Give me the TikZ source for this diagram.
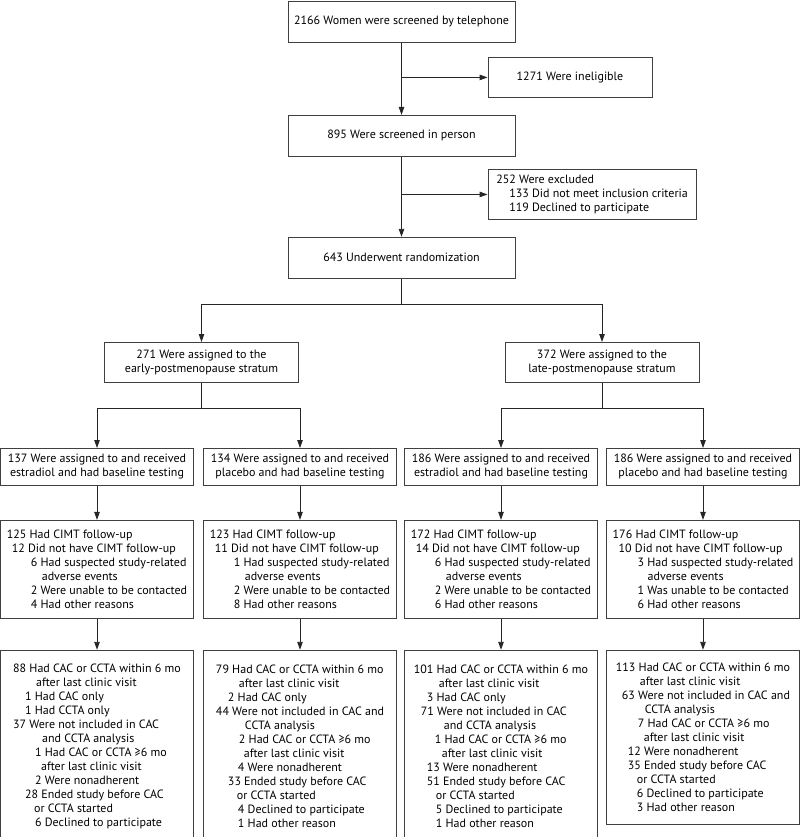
\documentclass[tikz,border=0pt]{standalone}
\usepackage{fontspec}
\setmainfont{PT Sans}
\usetikzlibrary{positioning,arrows.meta}

\newcommand{\lvl}[1]{\hspace*{#1pt}}

\begin{document}
\begin{tikzpicture}[x=1pt, y=-1pt,
                    font=\fontsize{12}{14}\selectfont,
                    line width=0.9pt,
                    box/.style={draw=black!75, anchor=north, inner xsep=4pt, inner ysep=3pt},
                    single box/.style={box, minimum width=227pt, minimum height=41pt, align=center},
                    strat box/.style={box, minimum width=194pt, minimum height=40pt, align=center},
                    arm box/.style={box, minimum width=193pt, minimum height=37pt, align=center},
                    list box/.style={box, minimum width=193pt, align=left},
                    link/.style={draw=black!85},
                    arr/.style={link, -{Triangle[length=8pt,width=5.5pt]}}]

  \useasboundingbox (0,0) rectangle (800,837);
  \clip (0,0) rectangle (800,837);

  % screening
  \node[single box] (tel) at (401.5,1) {2166 Women were screened by telephone};
  \node[single box] (person) [below=72pt of tel] {895 Were screened in person};
  \node[single box] (rand) [below=80pt of person] {643 Underwent randomization};
  \node[box, minimum width=164pt, minimum height=40pt] (inelig) at (570,57) {1271 Were ineligible};
  \node[box, minimum width=208pt, minimum height=50pt, align=left] (excl) at (592,169)
    {252 Were excluded\\ \lvl{13}133 Did not meet inclusion criteria\\ \lvl{13}119 Declined to participate};

  \draw[arr] (tel) -- (person);
  \draw[arr] (person) -- (rand);
  \draw[arr] (tel.south |- inelig.west) -- (inelig.west);
  \draw[arr] (person.south |- excl.west) -- (excl.west);

  % strata
  \coordinate[below=26pt of rand.south] (rsplit);
  \node[strat box] (early) at (201.5,342) {271 Were assigned to the\\early-postmenopause stratum};
  \node[strat box] (late) at (602,342) {372 Were assigned to the\\late-postmenopause stratum};

  \draw[link] (rand) -- (rsplit);
  \draw[arr] (rsplit) -| (early);
  \draw[arr] (rsplit) -| (late);

  % arms
  \coordinate[below=26pt of early.south] (esplit);
  \coordinate[below=26pt of late.south] (lsplit);
  \node[arm box] (ee) at (97,448) {137 Were assigned to and received\\estradiol and had baseline testing};
  \node[arm box] (ep) at (300,448) {134 Were assigned to and received\\placebo and had baseline testing};
  \node[arm box] (le) at (501,448) {186 Were assigned to and received\\estradiol and had baseline testing};
  \node[arm box] (lp) at (703,448) {186 Were assigned to and received\\placebo and had baseline testing};

  \draw[link] (early) -- (esplit);
  \draw[link] (late) -- (lsplit);
  \draw[arr] (esplit) -| (ee);
  \draw[arr] (esplit) -| (ep);
  \draw[arr] (lsplit) -| (le);
  \draw[arr] (lsplit) -| (lp);

  % CIMT follow-up
  \node[list box, minimum height=98pt] (ee cimt) [below=34pt of ee]
    {125 Had CIMT follow-up\\ \lvl{5}12 Did not have CIMT follow-up\\ \lvl{24}6 Had suspected study-related\\ \lvl{35}adverse events\\ \lvl{24}2 Were unable to be contacted\\ \lvl{24}4 Had other reasons};
  \node[list box, minimum height=98pt] (ep cimt) [below=34pt of ep]
    {123 Had CIMT follow-up\\ \lvl{5}11 Did not have CIMT follow-up\\ \lvl{24}1 Had suspected study-related\\ \lvl{35}adverse events\\ \lvl{24}2 Were unable to be contacted\\ \lvl{24}8 Had other reasons};
  \node[list box, minimum height=98pt] (le cimt) [below=34pt of le]
    {172 Had CIMT follow-up\\ \lvl{5}14 Did not have CIMT follow-up\\ \lvl{24}6 Had suspected study-related\\ \lvl{35}adverse events\\ \lvl{24}2 Were unable to be contacted\\ \lvl{24}6 Had other reasons};
  \node[list box, minimum height=98pt] (lp cimt) [below=34pt of lp]
    {176 Had CIMT follow-up\\ \lvl{6}10 Did not have CIMT follow-up\\ \lvl{25}3 Had suspected study-related\\ \lvl{35}adverse events\\ \lvl{25}1 Was unable to be contacted\\ \lvl{25}6 Had other reasons};

  \draw[arr] (ee) -- (ee cimt);
  \draw[arr] (ep) -- (ep cimt);
  \draw[arr] (le) -- (le cimt);
  \draw[arr] (lp) -- (lp cimt);

  % CAC and CCTA
  \node[list box, minimum height=192pt] (ee cac) [below=31pt of ee cimt]
    {88 Had CAC or CCTA within 6 mo\\ \lvl{23}after last clinic visit\\ \lvl{12}1 Had CAC only\\ \lvl{12}1 Had CCTA only\\
     37 Were not included in CAC\\ \lvl{29}and CCTA analysis\\ \lvl{22}1 Had CAC or CCTA ≥6 mo\\ \lvl{28}after last clinic visit\\
     \lvl{22}2 Were nonadherent\\ \lvl{12}28 Ended study before CAC\\ \lvl{21}or CCTA started\\ \lvl{22}6 Declined to participate};
  \node[list box, minimum height=192pt] (ep cac) [below=31pt of ep cimt]
    {79 Had CAC or CCTA within 6 mo\\ \lvl{23}after last clinic visit\\ \lvl{12}2 Had CAC only\\
     44 Were not included in CAC and\\ \lvl{29}CCTA analysis\\ \lvl{23}2 Had CAC or CCTA ≥6 mo\\ \lvl{28}after last clinic visit\\
     \lvl{22}4 Were nonadherent\\ \lvl{12}33 Ended study before CAC\\ \lvl{21}or CCTA started\\ \lvl{22}4 Declined to participate\\ \lvl{22}1 Had other reason};
  \node[list box, minimum height=192pt] (le cac) [below=31pt of le cimt]
    {101 Had CAC or CCTA within 6 mo\\ \lvl{25}after last clinic visit\\ \lvl{13}3 Had CAC only\\
     \lvl{7}71 Were not included in CAC\\ \lvl{30}and CCTA analysis\\ \lvl{21}1 Had CAC or CCTA ≥6 mo\\ \lvl{28}after last clinic visit\\
     \lvl{13}13 Were nonadherent\\ \lvl{13}51 Ended study before CAC\\ \lvl{22}or CCTA started\\ \lvl{22}5 Declined to participate\\ \lvl{22}1 Had other reason};
  \node[list box, minimum height=174pt] (lp cac) [below=31pt of lp cimt]
    {113 Had CAC or CCTA within 6 mo\\ \lvl{24}after last clinic visit\\
     \lvl{6}63 Were not included in CAC and\\ \lvl{29}CCTA analysis\\ \lvl{22}7 Had CAC or CCTA ≥6 mo\\ \lvl{28}after last clinic visit\\
     \lvl{12}12 Were nonadherent\\ \lvl{12}35 Ended study before CAC\\ \lvl{21}or CCTA started\\ \lvl{21}6 Declined to participate\\ \lvl{21}3 Had other reason};

  \draw[arr] (ee cimt) -- (ee cac);
  \draw[arr] (ep cimt) -- (ep cac);
  \draw[arr] (le cimt) -- (le cac);
  \draw[arr] (lp cimt) -- (lp cac);
\end{tikzpicture}
\end{document}
